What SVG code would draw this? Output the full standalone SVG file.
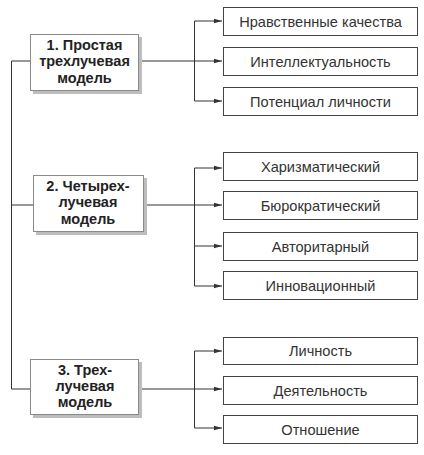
<svg xmlns="http://www.w3.org/2000/svg" width="424" height="455" viewBox="0 0 424 455">
<style>
.main rect.box{fill:#ffffff;stroke:#8a8a8a;stroke-width:1}
.main rect.sh{fill:#bdbdbd}
.main text{font-family:"Liberation Sans",Arial,sans-serif;font-weight:bold;font-size:14.5px;fill:#222;text-anchor:middle}
.item rect{fill:#ffffff;stroke:#444;stroke-width:1}
.item text{font-family:"Liberation Sans",Arial,sans-serif;font-size:14.6px;fill:#333;text-anchor:middle}
#connectors path{fill:none;stroke:#333;stroke-width:1}
</style>
<defs>
<marker id="arr" viewBox="0 0 8 6" refX="8" refY="3" markerWidth="8" markerHeight="6" markerUnits="userSpaceOnUse" orient="auto">
<path d="M0,0.8 L8,3 L0,5.2 Z" fill="#333"/>
</marker>
</defs>
<rect width="424" height="455" fill="#fff"/>
<g id="connectors">
<path d="M30,61 H11.5 V389 H30"/>
<path d="M11.5,205 H33"/>
<path d="M139,61 H194.5"/>
<path d="M144,205 H194.5"/>
<path d="M139,389 H194.5"/>
<path d="M194.5,21 V101"/>
<path d="M194.5,168 V286"/>
<path d="M194.5,351 V428"/>
<path d="M194.5,21 H222" marker-end="url(#arr)"/>
<path d="M194.5,61 H222" marker-end="url(#arr)"/>
<path d="M194.5,101 H222" marker-end="url(#arr)"/>
<path d="M194.5,168 H222" marker-end="url(#arr)"/>
<path d="M194.5,205 H222" marker-end="url(#arr)"/>
<path d="M194.5,246 H222" marker-end="url(#arr)"/>
<path d="M194.5,286 H222" marker-end="url(#arr)"/>
<path d="M194.5,351 H222" marker-end="url(#arr)"/>
<path d="M194.5,389 H222" marker-end="url(#arr)"/>
<path d="M194.5,428 H222" marker-end="url(#arr)"/>
</g>
<g id="model1" class="main">
<rect class="sh" x="33" y="37" width="109" height="57"/>
<rect class="box" x="30.5" y="34.5" width="108" height="56"/>
<text x="84.5" y="50">1. Простая</text>
<text x="84.5" y="66.3">трехлучевая</text>
<text x="84.5" y="82.6">модель</text>
</g>
<g id="model2" class="main">
<rect class="sh" x="36" y="178" width="111" height="57"/>
<rect class="box" x="33.5" y="175.5" width="110" height="56"/>
<text x="88" y="191">2. Четырех-</text>
<text x="88" y="207.3">лучевая</text>
<text x="88" y="223.6">модель</text>
</g>
<g id="model3" class="main">
<rect class="sh" x="33" y="362" width="109" height="56"/>
<rect class="box" x="30.5" y="359.5" width="108" height="55"/>
<text x="85" y="374.5">3. Трех-</text>
<text x="85" y="390.8">лучевая</text>
<text x="85" y="407.1">модель</text>
</g>
<g id="i1" class="item"><rect x="223.5" y="7.5" width="194" height="28"/><text x="320.5" y="26.5">Нравственные качества</text></g>
<g id="i2" class="item"><rect x="223.5" y="47.5" width="194" height="28"/><text x="320.5" y="66.5">Интеллектуальность</text></g>
<g id="i3" class="item"><rect x="223.5" y="87.5" width="194" height="28"/><text x="320.5" y="106.5">Потенциал личности</text></g>
<g id="i4" class="item"><rect x="223.5" y="152.5" width="194" height="28"/><text x="320.5" y="171.5">Харизматический</text></g>
<g id="i5" class="item"><rect x="223.5" y="191.5" width="194" height="28"/><text x="320.5" y="210.5">Бюрократический</text></g>
<g id="i6" class="item"><rect x="223.5" y="232.5" width="194" height="28"/><text x="320.5" y="251.5">Авторитарный</text></g>
<g id="i7" class="item"><rect x="223.5" y="271.5" width="194" height="28"/><text x="320.5" y="290.5">Инновационный</text></g>
<g id="i8" class="item"><rect x="223.5" y="337.5" width="194" height="27"/><text x="320.5" y="356">Личность</text></g>
<g id="i9" class="item"><rect x="223.5" y="376.5" width="194" height="28"/><text x="320.5" y="395.5">Деятельность</text></g>
<g id="i10" class="item"><rect x="223.5" y="415.5" width="194" height="28"/><text x="320.5" y="434.5">Отношение</text></g>
</svg>
